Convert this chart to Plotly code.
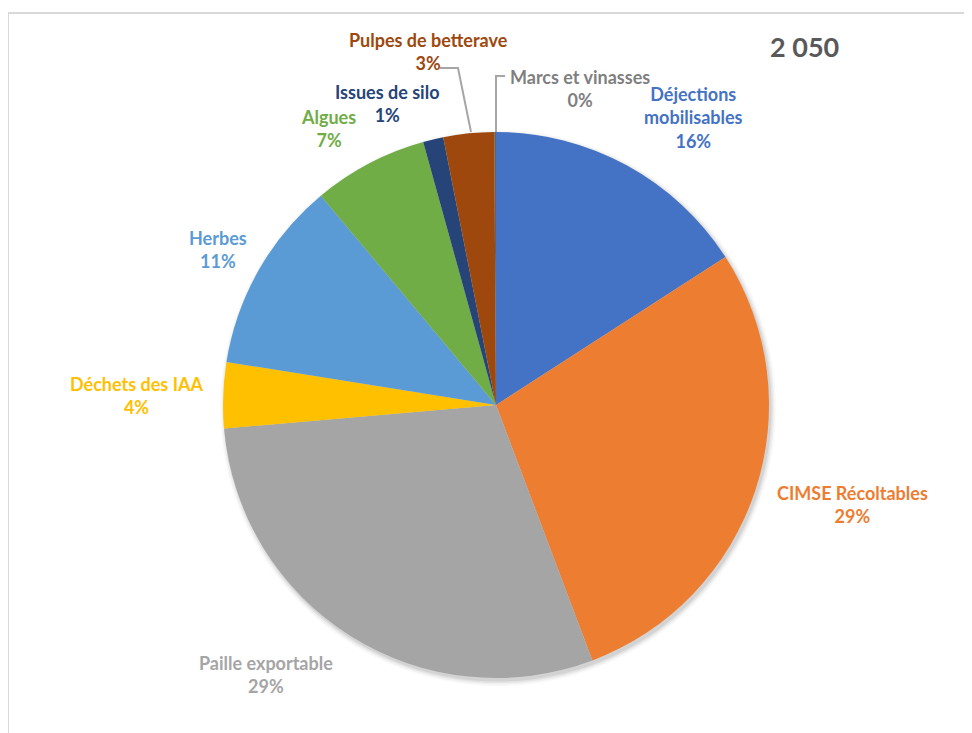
import plotly.graph_objects as go

categories = ["Déjections mobilisables", "CIMSE Récoltables", "Paille exportable",
              "Déchets des IAA", "Herbes", "Algues", "Issues de silo",
              "Pulpes de betterave", "Marcs et vinasses"]
shares = [15.9, 28.4, 29.4, 3.9, 11.4, 6.8, 1.2, 3.0, 0.1]
pct_labels = ["16%", "29%", "29%", "4%", "11%", "7%", "1%", "3%", "0%"]
slice_colors = ["#4472C4", "#ED7D31", "#A5A5A5", "#FFC000", "#5B9BD5",
                "#70AD47", "#264478", "#9E480E", "#636363"]
label_colors = ["#4472C4", "#ED7D31", "#A5A5A5", "#FFC000", "#5B9BD5",
                "#70AD47", "#264478", "#9E480E", "#7F7F7F"]
label_text = ["Déjections<br>mobilisables", "CIMSE Récoltables", "Paille exportable",
              "Déchets des IAA", "Herbes", "Algues", "Issues de silo",
              "Pulpes de betterave", "Marcs et vinasses"]
year_label = "2 050"

OFF = 8  # page body margin
W, H = 972 - OFF, 733 - OFF
cx, cy, r = 496, 405, 273

# label centre positions in screen pixels (layout)
label_pos = [(693, 118), (852, 504), (266, 674), (136, 395), (218, 250),
             (328, 128), (387, 103), (428, 51), (580, 88)]

def px(x):
    return (x - OFF) / W

def py(y):
    return 1 - (y - OFF) / H

fig = go.Figure()
fig.add_trace(go.Pie(
    labels=categories, values=shares, sort=False, direction="clockwise",
    rotation=0, textinfo="none", hoverinfo="label+percent",
    marker=dict(colors=slice_colors, line=dict(width=0)),
    domain=dict(x=[px(cx - r), px(cx + r)], y=[py(cy + r), py(cy - r)]),
    showlegend=False,
))

annotations = []
for txt, pct, col, (x, y) in zip(label_text, pct_labels, label_colors, label_pos):
    annotations.append(dict(
        x=px(x), y=py(y), xref="paper", yref="paper", showarrow=False,
        text=f"<b>{txt}<br>{pct}</b>", align="center",
        font=dict(family="Lato", size=18, color=col),
        xanchor="center", yanchor="middle",
    ))
annotations.append(dict(
    x=px(804), y=py(47), xref="paper", yref="paper", showarrow=False,
    text=f"<b>{year_label}</b>", font=dict(family="Lato", size=27, color="#595959"),
    xanchor="center", yanchor="middle",
))

shapes = []
# soft drop shadow behind the pie
for k, a in [(6, 0.025), (4.5, 0.035), (3, 0.05), (1.5, 0.07)]:
    scx, scy, sr = cx + 2, cy + 3, r + k - 1
    shapes.append(dict(type="circle", xref="paper", yref="paper", layer="below",
                       x0=px(scx - sr), x1=px(scx + sr), y0=py(scy + sr), y1=py(scy - sr),
                       fillcolor=f"rgba(0,0,0,{a})", line=dict(width=0)))
shapes += [
    dict(type="line", xref="paper", yref="paper", x0=px(8), x1=1.0, y0=py(13), y1=py(13),
         line=dict(color="#D9D9D9", width=2)),
    dict(type="line", xref="paper", yref="paper", x0=px(8), x1=px(8), y0=py(13), y1=0,
         line=dict(color="#D9D9D9", width=2)),
    dict(type="path", xref="paper", yref="paper",
         path=f"M {px(440)},{py(68)} L {px(458)},{py(68)} L {px(471)},{py(132)}",
         line=dict(color="#A6A6A6", width=2)),
    dict(type="path", xref="paper", yref="paper",
         path=f"M {px(505)},{py(76)} L {px(496)},{py(76)} L {px(496)},{py(132)}",
         line=dict(color="#A6A6A6", width=2)),
]

fig.update_layout(
    width=W, height=H, margin=dict(l=0, r=0, t=0, b=0),
    paper_bgcolor="white", plot_bgcolor="white",
    annotations=annotations, shapes=shapes,
)

fig.write_html("out.html")
